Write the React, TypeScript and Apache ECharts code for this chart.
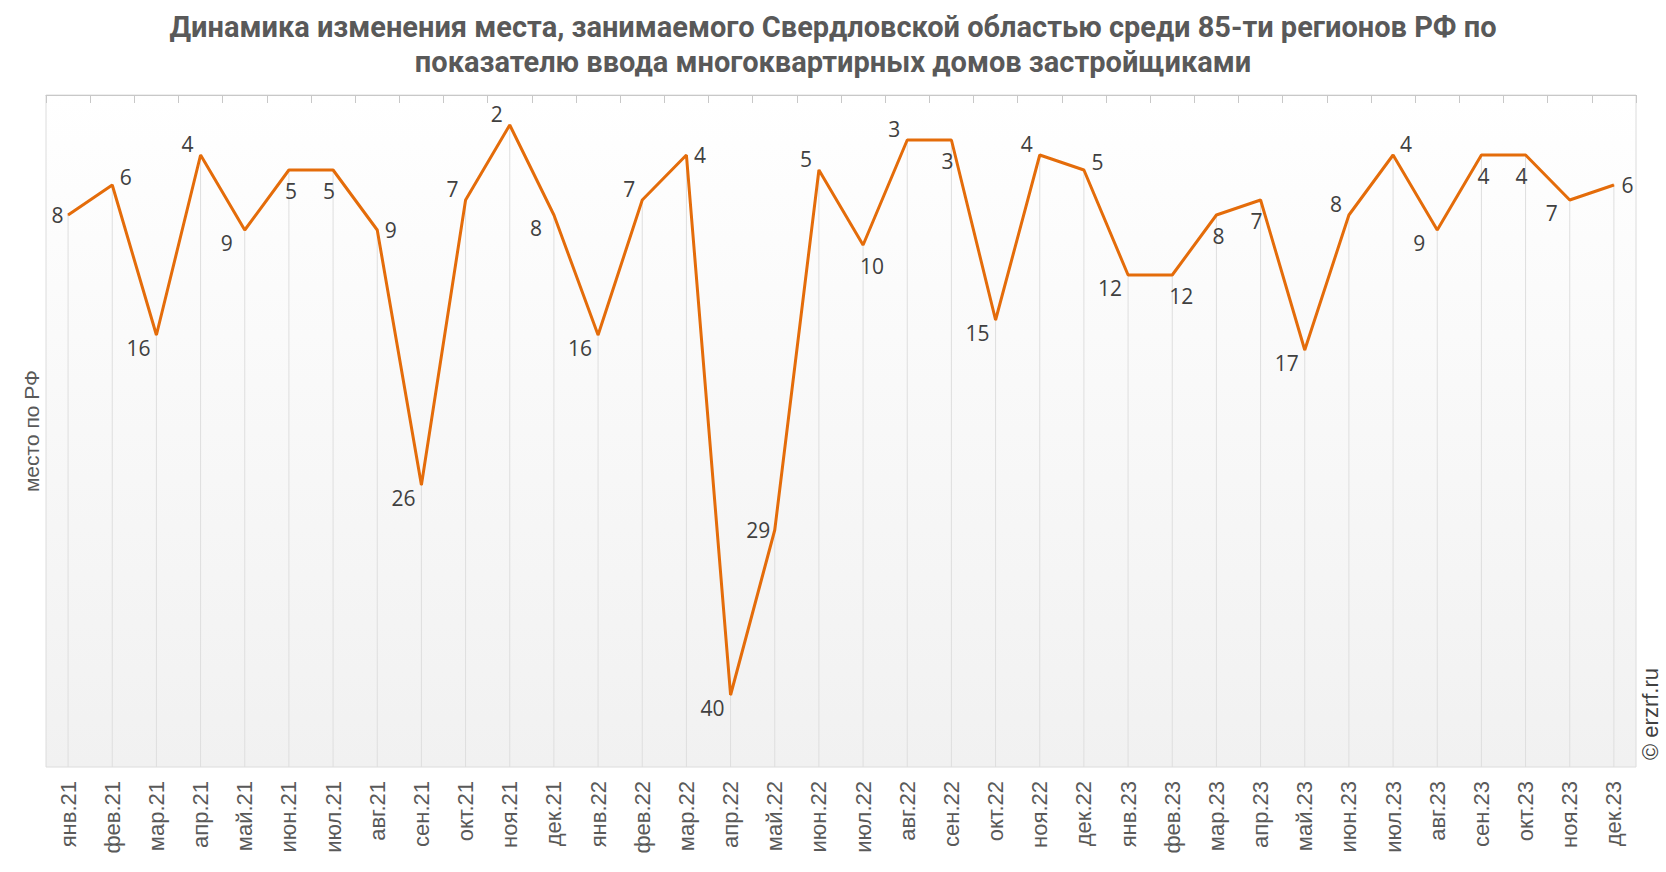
import React, { useEffect, useRef } from "react";
import * as echarts from "echarts";

const titleText =
  "Динамика изменения места, занимаемого Свердловской областью среди 85-ти регионов РФ по\nпоказателю ввода многоквартирных домов застройщиками";
const yAxisName = "место по РФ";
const watermark = "© erzrf.ru";

const months = ["янв", "фев", "мар", "апр", "май", "июн", "июл", "авг", "сен", "окт", "ноя", "дек"];
const years = ["21", "22", "23"];
const categories: string[] = years.flatMap((y) => months.map((m) => `${m}.${y}`));

const ranks2021 = [8, 6, 16, 4, 9, 5, 5, 9, 26, 7, 2, 8];
const ranks2022 = [16, 7, 4, 40, 29, 5, 10, 3, 3, 15, 4, 5];
const ranks2023 = [12, 12, 8, 7, 17, 8, 4, 9, 4, 4, 7, 6];
const ranks = [...ranks2021, ...ranks2022, ...ranks2023];

// label placement code per point
const labelPlacement = [
  "L", "RU", "BL", "TL", "BL", "B", "Bl", "R", "BL", "TL", "TL", "BL",
  "BL", "TL", "R", "BL", "L", "TL", "BR", "TL", "Bl", "BL", "TL", "RU",
  "BL", "BR", "B", "Bl", "BL", "TL", "TR", "BL", "B", "Bl", "BL", "R",
];

const Y_MAX = 44.8;

function labelFor(code: string) {
  switch (code) {
    case "L":
      return { position: "left", distance: 4, offset: [0, 0] };
    case "R":
      return { position: "right", distance: 4, offset: [3, 0] };
    case "RU":
      return { position: "right", distance: 4, offset: [3, -8] };
    case "TL":
      return { position: "top", distance: 4, offset: [-13, 4] };
    case "TR":
      return { position: "top", distance: 4, offset: [13, 4] };
    case "B":
      return { position: "bottom", distance: 4, offset: [2, 6] };
    case "Bl":
      return { position: "bottom", distance: 4, offset: [-4, 6] };
    case "BL":
      return { position: "bottom", distance: 4, offset: [-18, -2] };
    case "BR":
      return { position: "bottom", distance: 4, offset: [9, 6] };
    default:
      return { position: "top", distance: 4, offset: [0, 0] };
  }
}

export default function App() {
  const ref = useRef<HTMLDivElement>(null);

  useEffect(() => {
    document.body.style.margin = "0";
    if (!ref.current) return;
    const chart = echarts.init(ref.current, null, { renderer: "svg" });

    const lineData = ranks.map((v, i) => ({
      value: v,
      label: labelFor(labelPlacement[i]),
    }));

    chart.setOption({
      animation: false,
      backgroundColor: "#ffffff",
      title: {
        text: titleText,
        left: "center",
        top: 4,
        textStyle: {
          fontFamily: "Roboto",
          fontWeight: 700,
          fontSize: 29,
          color: "#595959",
          lineHeight: 35,
        },
      },
      grid: {
        left: 46,
        right: 30,
        top: 95,
        bottom: 105,
        show: true,
        borderColor: "#dcdcdc",
        borderWidth: 1,
        backgroundColor: new echarts.graphic.LinearGradient(0, 0, 0, 1, [
          { offset: 0, color: "#ffffff" },
          { offset: 1, color: "#f1f1f1" },
        ]),
      },
      xAxis: {
        type: "category",
        data: categories,
        boundaryGap: true,
        axisLine: { show: true, lineStyle: { color: "#c8c8c8", width: 1 } },
        axisTick: {
          show: true,
          alignWithLabel: false,
          length: 8,
          lineStyle: { color: "#c8c8c8" },
        },
        axisLabel: {
          rotate: 90,
          interval: 0,
          margin: 14,
          fontFamily: "Liberation Sans",
          fontSize: 22,
          color: "#595959",
        },
        splitLine: { show: false },
      },
      yAxis: {
        type: "value",
        inverse: true,
        min: 0,
        max: Y_MAX,
        name: yAxisName,
        nameLocation: "middle",
        nameGap: 4,
        nameRotate: 90,
        nameTextStyle: {
          fontFamily: "Liberation Sans",
          fontSize: 21,
          color: "#595959",
        },
        axisLine: { show: false },
        axisTick: { show: false },
        axisLabel: { show: false },
        splitLine: { show: false },
      },
      graphic: [
        {
          type: "text",
          x: 1661,
          y: 714,
          rotation: Math.PI / 2,
          style: {
            text: watermark,
            fontFamily: "Liberation Sans",
            fontSize: 22,
            fill: "#404040",
            align: "center",
            verticalAlign: "bottom",
          },
        },
      ],
      series: [
        {
          type: "custom",
          z: 1,
          silent: true,
          data: ranks.map((v, i) => [i, v]),
          renderItem: (params: any, api: any) => {
            const p = api.coord([api.value(0), api.value(1)]);
            const b = api.coord([api.value(0), Y_MAX]);
            return {
              type: "line",
              shape: { x1: p[0], y1: p[1], x2: b[0], y2: b[1] },
              style: { stroke: "#dedede", lineWidth: 1 },
            };
          },
        },
        {
          type: "line",
          z: 3,
          data: lineData,
          symbol: "circle",
          symbolSize: 1,
          showSymbol: true,
          itemStyle: { color: "#e46c0a" },
          lineStyle: { color: "#e46c0a", width: 3 },
          label: {
            show: true,
            fontFamily: "Open Sans",
            fontSize: 21,
            color: "#404040",
          },
        },
      ],
    });

    return () => chart.dispose();
  }, []);

  return <div ref={ref} style={{ width: 1666, height: 872 }} />;
}
